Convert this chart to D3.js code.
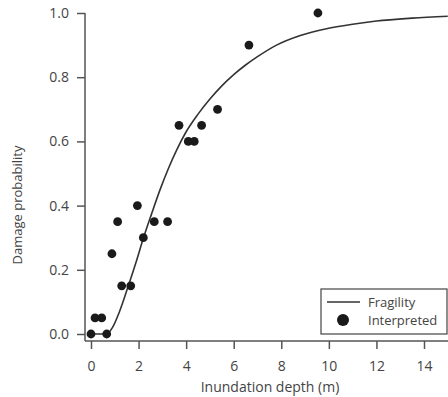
<!DOCTYPE html>
<html>
<head>
<meta charset="utf-8">
<script src="https://cdn.jsdelivr.net/npm/d3@7"></script>
<style>
  html, body { margin: 0; padding: 0; background: #fff; }
  svg { display: block; }
  text { font-family: "Open Sans", sans-serif; fill: #444; }
</style>
</head>
<body>
<svg id="chart" width="448" height="397"></svg>
<script>
// Observed (interpreted) points
const obsDepth = [0, 0.66, 0.17, 0.45, 0.88, 1.12, 1.29, 1.67, 1.95, 2.2, 2.66, 3.22, 3.70, 4.09, 4.34, 4.65, 5.32, 6.64, 9.54];
const obsProb  = [0, 0,    0.05, 0.05, 0.25, 0.35, 0.15, 0.15, 0.40, 0.30, 0.35, 0.35, 0.65, 0.60, 0.60, 0.65, 0.70, 0.90, 1.00];

// Fragility curve
const fragDepth = [0, 0.5, 0.7, 0.9, 1.2, 1.57, 1.9, 2.2, 2.55, 2.9, 3.25, 3.6, 4.0, 4.5, 5.0, 5.5, 6.0, 6.5, 7.0, 7.8, 8.8, 9.9, 11, 12, 13.5, 15];
const fragProb  = [0, 0, 0.002, 0.02, 0.07, 0.15, 0.225, 0.298, 0.375, 0.449, 0.515, 0.573, 0.63, 0.685, 0.732, 0.773, 0.808, 0.838, 0.864, 0.9, 0.93, 0.951, 0.965, 0.975, 0.984, 0.99];

const xTicks = [0, 2, 4, 6, 8, 10, 12, 14];
const yTicks = [0, 0.2, 0.4, 0.6, 0.8, 1.0];
const legendLabels = ["Fragility", "Interpreted"];

const svg = d3.select("#chart");
const x = d3.scaleLinear().domain([0, 14]).range([91, 424]);
const y = d3.scaleLinear().domain([0, 1]).range([334, 13]);

const axisColor = "#555";
const xAxisY = 341, yAxisX = 85;

// Y axis
const gy = svg.append("g").attr("transform", `translate(${yAxisX},0)`)
  .call(d3.axisLeft(y).tickValues(yTicks).tickFormat(d3.format(".1f")).tickSize(8).tickPadding(8));
gy.select(".domain").remove();
gy.selectAll(".tick line").attr("stroke", axisColor).attr("stroke-width", 1.5);
gy.selectAll(".tick text").style("font-family", "Open Sans, sans-serif").style("font-size", "14px").attr("fill", "#444");
svg.append("line").attr("x1", yAxisX).attr("x2", yAxisX).attr("y1", y(1)).attr("y2", xAxisY)
  .attr("stroke", axisColor).attr("stroke-width", 1.5);

// X axis
const gx = svg.append("g").attr("transform", `translate(0,${xAxisY})`)
  .call(d3.axisBottom(x).tickValues(xTicks).tickFormat(d3.format("d")).tickSize(8).tickPadding(12));
gx.select(".domain").remove();
gx.selectAll(".tick line").attr("stroke", axisColor).attr("stroke-width", 1.5);
gx.selectAll(".tick text").style("font-family", "Open Sans, sans-serif").style("font-size", "14px").attr("fill", "#444");
svg.append("line").attr("x1", yAxisX).attr("x2", 448).attr("y1", xAxisY).attr("y2", xAxisY)
  .attr("stroke", axisColor).attr("stroke-width", 1.5);

// Axis titles
svg.append("text").attr("x", 270).attr("y", 392).attr("text-anchor", "middle")
  .style("font-size", "14px").text("Inundation depth (m)");
svg.append("text").attr("transform", "translate(22,205) rotate(-90)").attr("text-anchor", "middle")
  .style("font-size", "13px").text("Damage probability");

// Fragility curve
const line = d3.line().x((d, i) => x(fragDepth[i])).y((d, i) => y(fragProb[i])).curve(d3.curveMonotoneX);
svg.append("path").datum(fragDepth).attr("d", line).attr("fill", "none")
  .attr("stroke", "#333").attr("stroke-width", 1.6);

// Points
svg.append("g").selectAll("circle").data(obsDepth).join("circle")
  .attr("cx", (d) => x(d)).attr("cy", (d, i) => y(obsProb[i])).attr("r", 4.4).attr("fill", "#1a1a1a");

// Legend
const lg = svg.append("g");
lg.append("rect").attr("x", 321).attr("y", 289).attr("width", 126).attr("height", 45)
  .attr("fill", "#fff").attr("stroke", "#444").attr("stroke-width", 1.2);
lg.append("line").attr("x1", 327).attr("x2", 360).attr("y1", 302).attr("y2", 302)
  .attr("stroke", "#333").attr("stroke-width", 1.6);
lg.append("circle").attr("cx", 343).attr("cy", 320).attr("r", 6).attr("fill", "#1a1a1a");
lg.selectAll("text.lab").data(legendLabels).join("text").attr("class", "lab")
  .attr("x", 368).attr("y", (d, i) => 307 + i * 18).style("font-size", "13px").text((d) => d);
</script>
</body>
</html>
